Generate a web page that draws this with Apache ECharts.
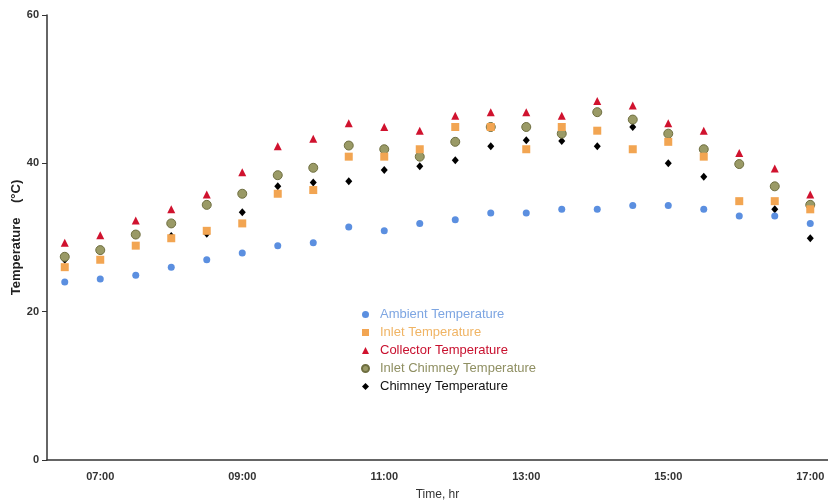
<!DOCTYPE html>
<html>
<head>
<meta charset="utf-8">
<script src="https://cdn.jsdelivr.net/npm/echarts@6/dist/echarts.min.js"></script>
<style>
  html, body { margin: 0; padding: 0; background: #fff; }
  #temp_chart { width: 828px; height: 500px; }
</style>
</head>
<body>
<div id="temp_chart"></div>
<script>
var times = ['06:30','07:00','07:30','08:00','08:30','09:00','09:30','10:00','10:30','11:00','11:30',
             '12:00','12:30','13:00','13:30','14:00','14:30','15:00','15:30','16:00','16:30','17:00'];
var ambient      = [24.0, 24.4, 24.9, 26.0, 27.0, 27.9, 28.9, 29.3, 31.4, 30.9, 31.9,
                    32.4, 33.3, 33.3, 33.8, 33.8, 34.3, 34.3, 33.8, 32.9, 32.9, 31.9];
var inlet        = [26.0, 27.0, 28.9, 29.9, 30.9, 31.9, 35.9, 36.4, 40.9, 40.9, 41.9,
                    44.9, 44.9, 41.9, 44.9, 44.4, 41.9, 42.9, 40.9, 34.9, 34.9, 33.8];
var collector    = [29.3, 30.3, 32.3, 33.8, 35.8, 38.8, 42.3, 43.3, 45.4, 44.9, 44.4,
                    46.4, 46.9, 46.9, 46.4, 48.4, 47.8, 45.4, 44.4, 41.4, 39.3, 35.8];
var inletChimney = [27.4, 28.3, 30.4, 31.9, 34.4, 35.9, 38.4, 39.4, 42.4, 41.9, 40.9,
                    42.9, 44.9, 44.9, 44.0, 46.9, 45.9, 44.0, 41.9, 39.9, 36.9, 34.4];
var chimney      = [27.0, 28.2, 30.3, 30.2, 30.5, 33.4, 36.9, 37.4, 37.6, 39.1, 39.6,
                    40.4, 42.3, 43.1, 43.0, 42.3, 44.9, 40.0, 38.2, 39.9, 33.8, 29.9];
var yTicks = [0, 20, 40, 60];

var font = "'Liberation Sans', Arial, sans-serif";

// label and tick only on odd whole hours
function showHour(index, value) {
  var h = parseInt(value.slice(0, 2), 10);
  return value.slice(3) === '00' && h % 2 === 1;
}

var chart = echarts.init(document.getElementById('temp_chart'));
chart.setOption({
  animation: false,
  textStyle: { fontFamily: font },
  grid: { left: 47, top: 15, right: 0, bottom: 40, containLabel: false, outerBoundsMode: 'none' },
  legend: {
    orient: 'vertical',
    left: 356,
    top: 303,
    itemWidth: 7,
    itemHeight: 7,
    itemGap: 5,
    textStyle: { fontSize: 13, fontFamily: font, padding: [0, 0, 0, 6] },
    data: [
      { name: 'Ambient Temperature', textStyle: { color: '#7ea6e2' } },
      { name: 'Inlet Temperature', textStyle: { color: '#f0b464' } },
      { name: 'Collector Temperature', textStyle: { color: '#c8102e' } },
      { name: 'Inlet Chimney Temperature', textStyle: { color: '#8f8f62' } },
      { name: 'Chimney Temperature', textStyle: { color: '#111' } }
    ]
  },
  xAxis: {
    type: 'category',
    data: times,
    boundaryGap: true,
    name: 'Time, hr',
    nameLocation: 'middle',
    nameGap: 29,
    nameMoveOverlap: false,
    nameTextStyle: { color: '#333', fontSize: 12 },
    axisLine: { lineStyle: { color: '#333', width: 1.5 } },
    axisTick: { alignWithLabel: true, interval: showHour, length: 5, lineStyle: { color: '#333' } },
    axisLabel: { interval: showHour, color: '#333', fontSize: 11, fontWeight: 'bold', margin: 11 },
    splitLine: { show: false }
  },
  yAxis: {
    type: 'value',
    min: yTicks[0],
    max: yTicks[yTicks.length - 1],
    interval: 20,
    name: 'Temperature    (°C)',
    nameLocation: 'middle',
    nameGap: 24,
    nameMoveOverlap: false,
    nameTextStyle: { color: '#222', fontSize: 13, fontWeight: 'bold' },
    axisLine: { show: true, lineStyle: { color: '#333', width: 1.5 } },
    axisTick: { show: true, length: 5, lineStyle: { color: '#333' } },
    axisLabel: { color: '#333', fontSize: 11, fontWeight: 'bold', margin: 8 },
    splitLine: { show: false }
  },
  series: [
    {
      name: 'Ambient Temperature', type: 'scatter', z: 5,
      symbol: 'circle', symbolSize: 7,
      itemStyle: { color: '#5b8fe0', opacity: 1 },
      data: ambient
    },
    {
      name: 'Inlet Temperature', type: 'scatter', z: 4,
      symbol: 'rect', symbolSize: 8,
      itemStyle: { color: '#f2a552', opacity: 1 },
      data: inlet
    },
    {
      name: 'Collector Temperature', type: 'scatter', z: 6,
      symbol: 'triangle', symbolSize: 8,
      itemStyle: { color: '#d0122e', opacity: 1 },
      data: collector
    },
    {
      name: 'Inlet Chimney Temperature', type: 'scatter', z: 3,
      symbol: 'circle', symbolSize: 9,
      itemStyle: { color: '#9a9a66', borderColor: '#6e6e40', borderWidth: 1, opacity: 1 },
      data: inletChimney
    },
    {
      name: 'Chimney Temperature', type: 'scatter', z: 2,
      symbol: 'diamond', symbolSize: [7, 8],
      itemStyle: { color: '#000', opacity: 1 },
      data: chimney
    }
  ]
});
</script>
</body>
</html>
